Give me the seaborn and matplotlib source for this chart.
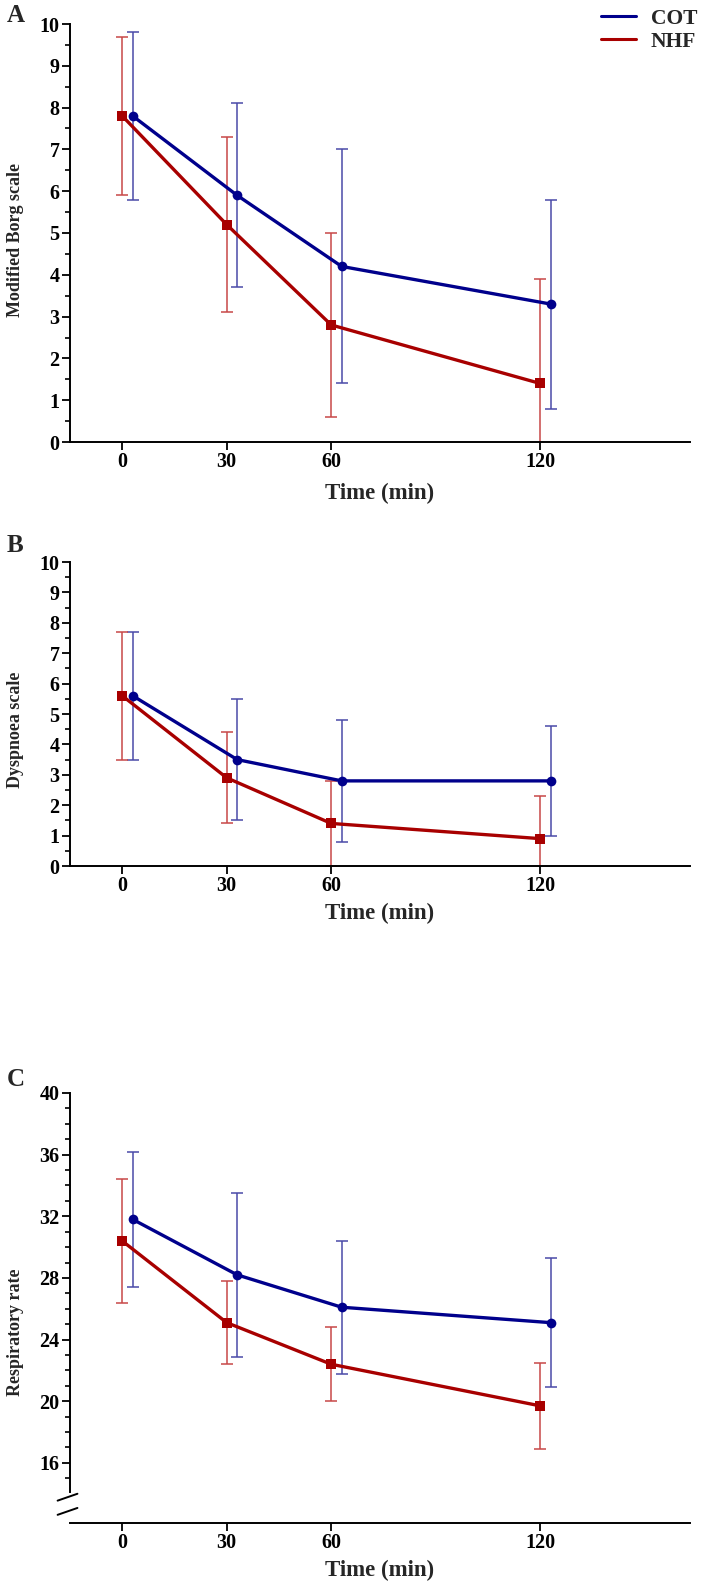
import numpy as np
import pandas as pd
import matplotlib
matplotlib.use("Agg")
import matplotlib.pyplot as plt
from matplotlib.lines import Line2D
from matplotlib.ticker import MultipleLocator, FixedLocator
import seaborn as sns

sns.set_theme(style="ticks")
plt.rcParams["font.family"] = ["Liberation Serif", "DejaVu Serif"]
plt.rcParams["font.weight"] = "bold"

# ---- Data (mean and SD) ----
TIME = [0, 30, 60, 120]

borg_cot = [7.8, 5.9, 4.2, 3.3]
borg_cot_sd = [2.0, 2.2, 2.8, 2.5]
borg_nhf = [7.8, 5.2, 2.8, 1.4]
borg_nhf_sd = [1.9, 2.1, 2.2, 2.5]

dysp_cot = [5.6, 3.5, 2.8, 2.8]
dysp_cot_sd = [2.1, 2.0, 2.0, 1.8]
dysp_nhf = [5.6, 2.9, 1.4, 0.9]
dysp_nhf_sd = [2.1, 1.5, 1.4, 1.4]

rr_cot = [31.8, 28.2, 26.1, 25.1]
rr_cot_sd = [4.4, 5.3, 4.3, 4.2]
rr_nhf = [30.4, 25.1, 22.4, 19.7]
rr_nhf_sd = [4.0, 2.7, 2.4, 2.8]

GROUPS = ["COT", "NHF"]

# ---- Style ----
COLORS = {"COT": "#00008C", "NHF": "#A80000"}
ERR_COLORS = {"COT": "#4A4AA8", "NHF": "#C84848"}
MARKERS = {"COT": "o", "NHF": "s"}
DODGE = {"COT": 3, "NHF": 0}

W, H = 709, 1586
fig = plt.figure(figsize=(W / 100, H / 100), dpi=100)


def rect(top, bottom, left=70, right=690):
    return [left / W, 1 - bottom / H, (right - left) / W, (bottom - top) / H]


def panel(ax, cot, cot_sd, nhf, nhf_sd, ylabel, ylim, major, minor):
    df = pd.DataFrame({
        "time": TIME * 2,
        "value": cot + nhf,
        "sd": cot_sd + nhf_sd,
        "group": ["COT"] * 4 + ["NHF"] * 4,
    })
    df["x"] = df["time"] + df["group"].map(DODGE)
    for g in GROUPS:
        d = df[df["group"] == g]
        ax.errorbar(d["x"], d["value"], yerr=d["sd"], fmt="none",
                    ecolor=ERR_COLORS[g], elinewidth=1.1, capsize=4,
                    capthick=1.1, zorder=2)
    sns.lineplot(data=df, x="x", y="value", hue="group", style="group",
                 palette=COLORS, markers=MARKERS, dashes=False, linewidth=2.4,
                 markersize=7, markeredgewidth=0, ax=ax, legend=False,
                 zorder=3)
    ax.set_xlim(-15, 163)
    ax.set_ylim(*ylim)
    ax.set_xticks(TIME)
    ax.set_xticklabels([str(t) for t in TIME])
    ax.yaxis.set_major_locator(major)
    ax.yaxis.set_minor_locator(minor)
    sns.despine(ax=ax)
    for s in ["left", "bottom"]:
        ax.spines[s].set_linewidth(1.4)
        ax.spines[s].set_color("black")
    ax.tick_params(axis="both", which="major", length=6, width=1.3,
                   labelsize=14.5, colors="black", pad=1.5)
    ax.tick_params(axis="y", which="minor", length=3.5, width=1.2,
                   colors="black")
    ax.tick_params(axis="x", which="minor", length=0)
    for lab in ax.get_xticklabels() + ax.get_yticklabels():
        lab.set_fontweight("bold")
    ax.set_xlabel("Time (min)", fontsize=16.5, fontweight="bold")
    ax.set_ylabel(ylabel, fontsize=13, fontweight="bold")
    ax.xaxis.label.set_va("center")
    ax.yaxis.label.set_va("center")
    ax.set_facecolor("white")
    return ax


# Panel A
axA = fig.add_axes(rect(24, 442))
panel(axA, borg_cot, borg_cot_sd, borg_nhf, borg_nhf_sd,
      "Modified Borg scale", (0, 10), MultipleLocator(1), MultipleLocator(0.5))
axA.xaxis.set_label_coords(0.5, -(493 - 442) / 418)
axA.yaxis.set_label_coords(-(70 - 16) / 620, (442 - 240) / 418)

# Panel B
axB = fig.add_axes(rect(562, 866))
panel(axB, dysp_cot, dysp_cot_sd, dysp_nhf, dysp_nhf_sd,
      "Dyspnoea scale", (0, 10), MultipleLocator(1), MultipleLocator(0.5))
axB.xaxis.set_label_coords(0.5, -(913 - 866) / 304)
axB.yaxis.set_label_coords(-(70 - 16) / 620, (866 - 730) / 304)

# Panel C (broken y axis)
axC = fig.add_axes(rect(1093, 1523))
panel(axC, rr_cot, rr_cot_sd, rr_nhf, rr_nhf_sd,
      "Respiratory rate", (12.1, 40), FixedLocator([16, 20, 24, 28, 32, 36, 40]),
      FixedLocator([v for v in range(15, 40) if v % 4 != 0]))
axC.spines["left"].set_bounds(14.1, 40)
axC.xaxis.set_label_coords(0.5, -(1570 - 1523) / 430)
axC.yaxis.set_label_coords(-(70 - 16) / 620, (1523 - 1332) / 430)
# axis-break slashes
for y0 in (0.060, 0.027):
    axC.plot([-0.020, 0.012], [y0 - 0.008, y0 + 0.008], transform=axC.transAxes,
             color="black", lw=1.4, clip_on=False)

# Panel letters
for letter, ypix in (("A", 15), ("B", 545), ("C", 1080)):
    fig.text(7 / W, 1 - ypix / H, letter, fontsize=18, fontweight="bold",
             va="center", ha="left")

# Legend
handles = [Line2D([0], [0], color=COLORS[g], lw=2.2) for g in GROUPS]
fig.legend(handles, GROUPS, loc="upper right",
           bbox_to_anchor=(706 / W, 1 - 0 / H), frameon=False,
           prop={"weight": "bold", "size": 15.5}, handlelength=1.6,
           handletextpad=0.7, labelspacing=0.15, borderaxespad=0.0)

fig.savefig("out.png", dpi=100, facecolor="white")
